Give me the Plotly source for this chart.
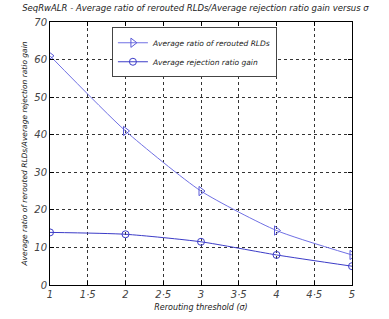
import plotly.graph_objects as go

x_vals = [1, 2, 3, 4, 5]
rerouted_ratio = [61, 41, 25, 14.5, 8]
rejection_gain = [14, 13.5, 11.5, 8, 5]
x_tick_vals = [1, 1.5, 2, 2.5, 3, 3.5, 4, 4.5, 5]
x_tick_text = ["1", "1·5", "2", "2·5", "3", "3·5", "4", "4·5", "5"]
y_tick_vals = [0, 10, 20, 30, 40, 50, 60, 70]

FONT = "DejaVu Sans"

fig = go.Figure()
fig.add_trace(go.Scatter(
    x=x_vals, y=rerouted_ratio, mode="lines+markers",
    name="<i>Average ratio of rerouted RLDs</i>",
    line=dict(color="#7070e4", width=1, shape="spline", smoothing=0.6),
    marker=dict(symbol="triangle-right-open", size=8, color="#5a5ad8", line=dict(width=1)),
))
fig.add_trace(go.Scatter(
    x=x_vals, y=rejection_gain, mode="lines+markers",
    name="<i>Average rejection ratio gain</i>",
    line=dict(color="#3c3cc8", width=1, shape="spline", smoothing=0.6),
    marker=dict(symbol="circle-open", size=7, color="#3c3cc8", line=dict(width=1)),
))

axis_common = dict(
    showline=True, linecolor="black", linewidth=1, mirror="ticks",
    ticks="inside", ticklen=4, tickcolor="black",
    showgrid=True, gridcolor="#333333", griddash="dot", gridwidth=1,
    zeroline=False, automargin=False,
    tickfont=dict(family=FONT, size=10, color="#444444", style="italic"),
)

fig.update_layout(
    width=389, height=319,
    margin=dict(l=50, r=37, t=22, b=34),
    paper_bgcolor="white", plot_bgcolor="white",
    title=dict(
        text="<i>SeqRwALR - Average ratio of rerouted RLDs/Average rejection ratio gain versus σ</i>",
        x=0.057, xanchor="left", y=0.985, yanchor="top",
        font=dict(family=FONT, size=8.5, color="#222222"),
    ),
    xaxis=dict(
        range=[1, 5], tickvals=x_tick_vals, ticktext=x_tick_text,
        title=dict(text="<i>Rerouting threshold (σ)</i>", standoff=5,
                   font=dict(family=FONT, size=8, color="#222222")),
        **axis_common,
    ),
    yaxis=dict(
        range=[0, 70], tickvals=y_tick_vals,
        title=dict(text="<i>Average ratio of rerouted RLDs/Average rejection ratio gain</i>", standoff=5,
                   font=dict(family=FONT, size=7.5, color="#222222")),
        **axis_common,
    ),
    legend=dict(
        x=0.205, y=0.98, xanchor="left", yanchor="top",
        bgcolor="white", bordercolor="#444444", borderwidth=1,
        font=dict(family=FONT, size=7.5, color="#222222"),
        tracegroupgap=0,
    ),
    showlegend=True,
)

fig.write_html("out.html", config={"displayModeBar": False},
               post_script="document.body.style.margin='0px';")
